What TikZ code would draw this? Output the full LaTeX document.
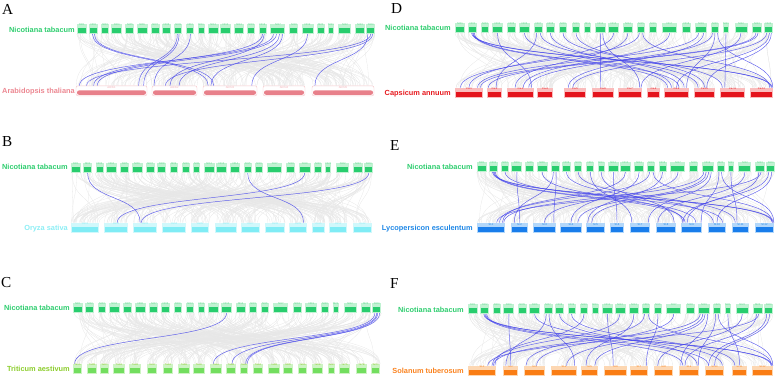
\documentclass[tikz,border=0pt]{standalone}
\usepackage{fontspec}
\setmainfont{Liberation Serif}
\newfontfamily\labfont{Liberation Sans}
\usetikzlibrary{calc}

\definecolor{ntbar}{RGB}{40,205,110}
\definecolor{ntpale}{RGB}{192,242,210}
\definecolor{ntname}{RGB}{45,205,110}
\definecolor{ntlab}{RGB}{100,218,145}
\definecolor{atbar}{RGB}{232,128,138}
\definecolor{atline}{RGB}{246,196,200}
\definecolor{atname}{RGB}{236,135,145}
\definecolor{osbar}{RGB}{128,236,245}
\definecolor{ospale}{RGB}{208,248,251}
\definecolor{osname}{RGB}{140,238,245}
\definecolor{tabar}{RGB}{115,222,95}
\definecolor{tapale}{RGB}{205,243,195}
\definecolor{taname}{RGB}{140,205,45}
\definecolor{cabar}{RGB}{228,20,28}
\definecolor{capale}{RGB}{250,188,188}
\definecolor{caname}{RGB}{230,25,30}
\definecolor{slbar}{RGB}{25,125,235}
\definecolor{slpale}{RGB}{178,215,250}
\definecolor{slname}{RGB}{30,135,230}
\definecolor{stbar}{RGB}{250,125,20}
\definecolor{stpale}{RGB}{253,215,178}
\definecolor{stname}{RGB}{250,130,30}
\definecolor{synblue}{RGB}{70,70,235}
\definecolor{bggray}{RGB}{231,231,231}

\tikzset{
  panel/.style={font=\fontsize{13}{13}\selectfont, anchor=west, inner sep=0pt},
  sp name/.style={font=\labfont\bfseries\fontsize{6.3}{7}\selectfont, anchor=east, inner sep=0pt},
  chr/.style 2 args={rectangle, inner sep=0pt, minimum height=3mm, fill=#1,
    path picture={\fill[#2] ([shift={(.3mm,.3mm)}]path picture bounding box.south west)
      rectangle ([shift={(-.3mm,1.6mm)}]path picture bounding box.south east);}},
  atchr/.style={chr={white}{atbar}, draw=atline, line width=.35pt, rounded corners=.6mm},
  chr lab/.style={anchor=north, inner sep=.25pt, font=\labfont\fontsize{2.3}{2.3}\selectfont, text=#1},
  bgline/.style={draw=bggray, line width=.25pt},
  synline/.style={draw=synblue, line width=.4pt, opacity=.85},
}

% 24 tobacco chromosomes: centre/width in px, scaled per panel
\newcommand\ntrow[4]{%
  \foreach \cc/\ww [count=\k] in {5/10,17.5/9,30/8,42.5/11,56.5/9,69.5/11,83.5/9,95.5/9,108/8,121/8,
      132.5/7,145.5/11,158.5/11,173/10,186/8,198/8,214.5/15,231.5/9,246/12,260/8,271/6,286/13,302/10,313.5/9}{%
    \edef\nm{Nt\ifnum\k<10 0\fi\k}%
    \node[chr={ntpale}{ntbar}, minimum width=\ww*.3mm, anchor=south,
      label={[chr lab=ntlab]north:\nm}] (#1nt\k) at ({#2+#3*\cc},#4) {};
  }%
}
\newcommand\sprow[5]{%
  \foreach \xa/\xb/\lab [count=\k] in {#5}{%
    \node[#3, minimum width={(\xb-\xa)*.3mm}, anchor=south,
      label={[chr lab=#4]north:\lab}] (#1sp\k) at ({(\xa+\xb)/2},#2) {};
  }%
}
\newcommand\bgfan[3]{%
  \foreach \i in {1,...,#3}{%
    \pgfmathrandominteger{\ia}{1}{24}%
    \pgfmathrandominteger{\ib}{1}{#2}%
    \pgfmathsetmacro\fa{rnd}%
    \pgfmathsetmacro\fb{rnd}%
    \draw[bgline] ($(#1nt\ia.south west)!\fa!(#1nt\ia.south east)$)
      .. controls +(0,28) and +(0,-28) .. ($(#1sp\ib.north west)!\fb!(#1sp\ib.north east)$);
  }%
}
\newcommand\synset[2]{%
  \foreach \ia/\fa/\ib/\fb in {#2}
    \draw[synline] ($(#1nt\ia.south west)!\fa!(#1nt\ia.south east)$)
      .. controls +(0,28) and +(0,-28) .. ($(#1sp\ib.north west)!\fb!(#1sp\ib.north east)$);
}

\begin{document}
\begin{tikzpicture}[x=0.3mm, y=-0.3mm]
  \useasboundingbox (0,0) rectangle (777,377);
  \pgfmathsetseed{11}

  \node[panel] (pA) at (2,9) {A};
  \node[panel] (pB) at (2,142) {B};
  \node[panel] (pC) at (1,283) {C};
  \node[panel] (pD) at (391,9) {D};
  \node[panel] (pE) at (390,146) {E};
  \node[panel] (pF) at (390,284) {F};

  \node[sp name, text=ntname] (A-top) at (75,30) {Nicotiana tabacum};
  \node[sp name, text=atname] (A-bot) at (75,92) {Arabidopsis thaliana};
  \node[sp name, text=ntname] (B-top) at (68,167) {Nicotiana tabacum};
  \node[sp name, text=osname] (B-bot) at (68,229) {Oryza sativa};
  \node[sp name, text=ntname] (C-top) at (70,308) {Nicotiana tabacum};
  \node[sp name, text=taname] (C-bot) at (70,369) {Triticum aestivum};
  \node[sp name, text=ntname] (D-top) at (451,28) {Nicotiana tabacum};
  \node[sp name, text=caname] (D-bot) at (451,94) {Capsicum annuum};
  \node[sp name, text=ntname] (E-top) at (473,167) {Nicotiana tabacum};
  \node[sp name, text=slname] (E-bot) at (473,229) {Lycopersicon esculentum};
  \node[sp name, text=ntname] (F-top) at (464,310) {Nicotiana tabacum};
  \node[sp name, text=stname] (F-bot) at (464,371) {Solanum tuberosum};

  % chromosomes
  \ntrow{A-}{77}{0.937}{34}
  \sprow{A-}{96}{atchr}{atname!70}{76/147/AtChr1, 152/197/AtChr2, 203/257/AtChr3, 263/305/AtChr4, 312/374/AtChr5}
  \ntrow{B-}{71}{0.950}{173}
  \sprow{B-}{233}{chr={ospale}{osbar}}{osname}{71/99/Os01, 104/128/Os02, 133/157/Os03, 162/186/Os04,
    191/209/Os05, 215/237/Os06, 241/260/Os07, 265/285/Os08, 289/307/Os09, 312/325/Os10, 329/347/Os11, 353/372/Os12}
  \ntrow{C-}{73}{0.969}{313}
  \sprow{C-}{374}{chr={tapale}{tabar}}{taname}{73/82/Ta1A, 87/97/Ta1B, 100/109/Ta1D, 113/125/Ta2A,
    129/141/Ta2B, 147/157/Ta2D, 163/173/Ta3A, 178/190/Ta3B, 193/205/Ta3D, 210/222/Ta4A, 226/236/Ta4B,
    240/248/Ta4D, 253/263/Ta5A, 268/280/Ta5B, 283/293/Ta5D, 298/307/Ta6A, 312/323/Ta6B, 328/335/Ta6D,
    339/350/Ta7A, 356/367/Ta7B, 371/380/Ta7D}
  \ntrow{D-}{455}{1}{33}
  \sprow{D-}{98}{chr={capale}{cabar}}{caname}{455/483/Ca-1, 487/502/Ca-2, 507/534/Ca-3, 537/553/Ca-4,
    564/586/Ca-5, 592/614/Ca-6, 618/642/Ca-7, 647/660/Ca-8, 664/689/Ca-9, 694/715/Ca-10, 720/745/Ca-11, 750/773/Ca-12}
  \ntrow{E-}{477}{0.937}{172}
  \sprow{E-}{233}{chr={slpale}{slbar}}{slname}{477/505/Sl-1, 511/528/Sl-2, 533/556/Sl-3, 560/582/Sl-4,
    586/605/Sl-5, 610/624/Sl-6, 630/650/Sl-7, 656/676/Sl-8, 681/702/Sl-9, 708/726/Sl-10, 732/749/Sl-11, 755/774/Sl-12}
  \ntrow{F-}{468}{0.959}{314}
  \sprow{F-}{376}{chr={stpale}{stbar}}{stname}{468/496/St-1, 503/518/St-2, 524/545/St-3, 551/577/St-4,
    581/598/St-5, 604/627/St-6, 630/648/St-7, 654/673/St-8, 679/699/St-9, 705/724/St-10, 732/747/St-11, 752/773/St-12}

  % background collinear blocks
  \bgfan{A-}{5}{280}
  \bgfan{B-}{12}{280}
  \bgfan{C-}{21}{280}
  \bgfan{D-}{12}{280}
  \bgfan{E-}{12}{280}
  \bgfan{F-}{12}{280}

  % highlighted pairs
  \synset{A-}{2/.4/3/.1, 2/.6/3/.2, 9/.4/1/.88, 9/.6/1/.95, 10/.5/2/.05, 16/.5/1/.25, 16/.7/2/.4,
    17/.2/1/.05, 17/.4/1/.3, 17/.6/2/.6, 17/.8/3/.15, 19/.5/3/.9, 24/.2/5/.05, 24/.5/1/.15, 24/.7/2/.3}
  \synset{B-}{2/.5/3/.3, 15/.5/9/.8, 19/.5/2/.55, 24/.5/3/.35}
  \synset{C-}{13/.5/1/.2, 24/.3/10/.3, 24/.5/11/.6, 24/.6/12/.7, 24/.8/12/.9}
  \synset{D-}{2/.4/12/.92, 2/.5/12/.95, 2/.6/9/.15, 2/.7/9/.6, 4/.5/3/.9, 6/.5/9/.3, 7/.3/2/.6,
    7/.7/10/.2, 8/.5/9/.8, 9/.5/11/.1, 10/.5/10/.5, 12/.5/6/.4, 12/.7/7/.9, 13/.5/1/.5, 14/.5/3/.3,
    15/.3/1/.2, 15/.7/12/.85, 17/.5/3/.6, 19/.3/1/.8, 19/.7/5/.2, 20/.2/3/.8, 20/.5/9/.9, 20/.8/12/.98,
    21/.5/11/.2, 22/.5/7/.95, 23/.4/1/.9, 23/.6/2/.1, 24/.3/5/.4, 24/.6/9/.5, 24/.8/10/.6}
  \synset{E-}{2/.4/12/.95, 2/.5/12/.9, 2/.6/9/.2, 2/.7/9/.7, 3/.5/10/.8, 4/.5/2/.5, 6/.5/9/.1,
    7/.3/2/.2, 7/.6/3/.9, 8/.5/10/.3, 9/.5/11/.2, 10/.5/7/.1, 11/.5/8/.9, 12/.5/6/.5, 13/.5/1/.9,
    14/.5/4/.5, 15/.3/1/.8, 15/.7/12/.9, 16/.5/5/.1, 17/.5/3/.5, 19/.2/1/.95, 19/.4/4/.8, 19/.6/5/.3,
    19/.8/7/.9, 20/.3/9/.95, 20/.6/12/.98, 21/.5/11/.3, 22/.5/8/.1, 23/.4/9/.3, 23/.6/1/.7,
    24/.3/9/.1, 24/.6/10/.5}
  \synset{F-}{2/.4/12/.95, 2/.5/12/.9, 2/.6/9/.2, 2/.7/10/.2, 4/.5/2/.5, 6/.5/10/.9, 7/.3/2/.2,
    7/.6/4/.9, 8/.5/9/.9, 9/.5/11/.2, 10/.5/1/.95, 12/.5/6/.4, 13/.5/1/.85, 14/.5/5/.3, 15/.3/3/.1,
    15/.7/12/.92, 16/.5/7/.9, 17/.5/3/.6, 19/.2/1/.9, 19/.4/4/.6, 19/.6/5/.8, 19/.8/9/.1,
    20/.3/9/.95, 20/.6/12/.98, 21/.5/11/.5, 22/.5/8/.2, 23/.4/9/.3, 23/.6/1/.7, 24/.3/10/.2, 24/.6/10/.5}
\end{tikzpicture}
\end{document}
